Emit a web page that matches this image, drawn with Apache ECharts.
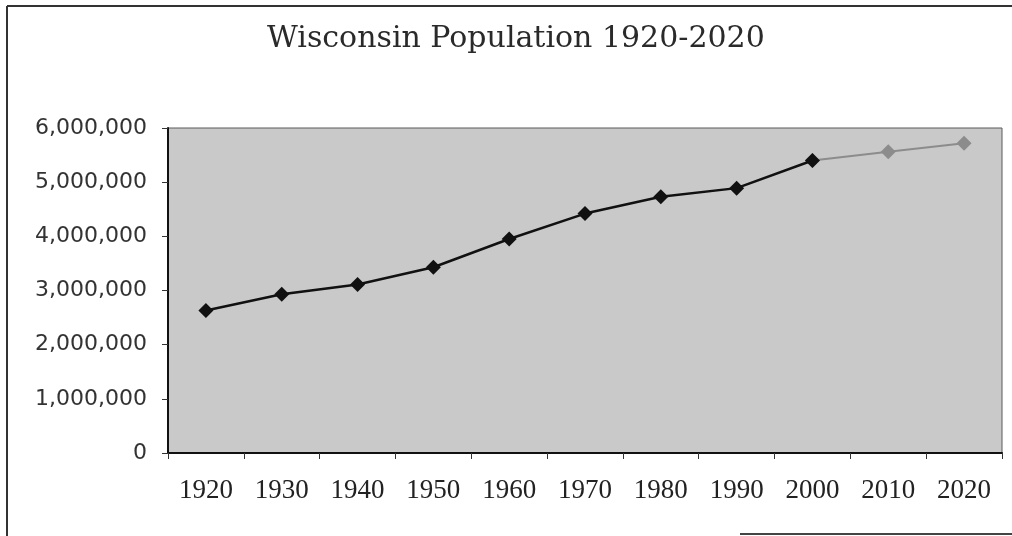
<!DOCTYPE html>
<html>
<head>
<meta charset="utf-8">
<script src="https://cdn.jsdelivr.net/npm/echarts@6/dist/echarts.min.js"></script>
<style>
  html, body { margin: 0; padding: 0; background: #fff; }
  #chart { width: 1012px; height: 536px; }
</style>
</head>
<body>
<div id="chart"></div>
<script>
// census years and population
const years = ['1920', '1930', '1940', '1950', '1960', '1970', '1980', '1990', '2000', '2010', '2020'];
const population = [2630000, 2930000, 3110000, 3430000, 3950000, 4420000, 4730000, 4890000, 5400000, 5560000, 5720000];
// last census year drawn in black; the rest is the projection (grey)
const lastCensus = '2000';

const cut = years.indexOf(lastCensus);
const census = population.map((v, i) => (i <= cut ? v : '-'));
const projected = population.map((v, i) => (i >= cut ? v : '-'));

const myechart = echarts.init(document.getElementById('chart'));

const option = {
  animation: false,
  backgroundColor: '#fff',
  title: {
    text: 'Wisconsin Population 1920-2020',
    left: 262,
    top: 19,
    textStyle: {
      fontFamily: 'DejaVu Serif',
      fontWeight: 'normal',
      fontSize: 30,
      color: '#2a2a2a'
    }
  },
  grid: {
    left: 168,
    right: 10,
    top: 128,
    bottom: 83,
    show: true,
    backgroundColor: '#c9c9c9',
    borderColor: '#5a5a5a',
    borderWidth: 1
  },
  xAxis: {
    type: 'category',
    data: years,
    boundaryGap: true,
    axisLine: { lineStyle: { color: '#111', width: 2 } },
    axisTick: { show: true, length: 6, lineStyle: { color: '#333' } },
    axisLabel: {
      margin: 24,
      fontFamily: 'Liberation Serif',
      fontSize: 27,
      color: '#222'
    },
    splitLine: { show: false }
  },
  yAxis: {
    type: 'value',
    min: 0,
    max: 6000000,
    interval: 1000000,
    axisLine: { show: true, lineStyle: { color: '#111', width: 2 } },
    axisTick: { show: true, length: 6, lineStyle: { color: '#333' } },
    axisLabel: {
      margin: 21,
      fontFamily: 'DejaVu Sans',
      fontSize: 22,
      color: '#333',
      formatter: v => v.toLocaleString('en-US')
    },
    splitLine: { show: false }
  },
  series: [
    {
      name: 'Projected',
      type: 'line',
      data: projected,
      symbol: 'diamond',
      symbolSize: 15,
      z: 2,
      lineStyle: { color: '#8c8c8c', width: 2 },
      itemStyle: { color: '#8c8c8c' }
    },
    {
      name: 'Census',
      type: 'line',
      data: census,
      symbol: 'diamond',
      symbolSize: 15,
      z: 3,
      lineStyle: { color: '#111', width: 2.5 },
      itemStyle: { color: '#111' }
    }
  ],
  graphic: [
    { type: 'line', shape: { x1: 7, y1: 6, x2: 7, y2: 536 }, style: { stroke: '#333', lineWidth: 2 } },
    { type: 'line', shape: { x1: 7, y1: 6, x2: 1012, y2: 6 }, style: { stroke: '#333', lineWidth: 2 } },
    { type: 'line', shape: { x1: 740, y1: 534, x2: 1012, y2: 534 }, style: { stroke: '#444', lineWidth: 2 } }
  ]
};

myechart.setOption(option);
window.onresize = () => { myechart.resize() };
</script>
</body>
</html>
